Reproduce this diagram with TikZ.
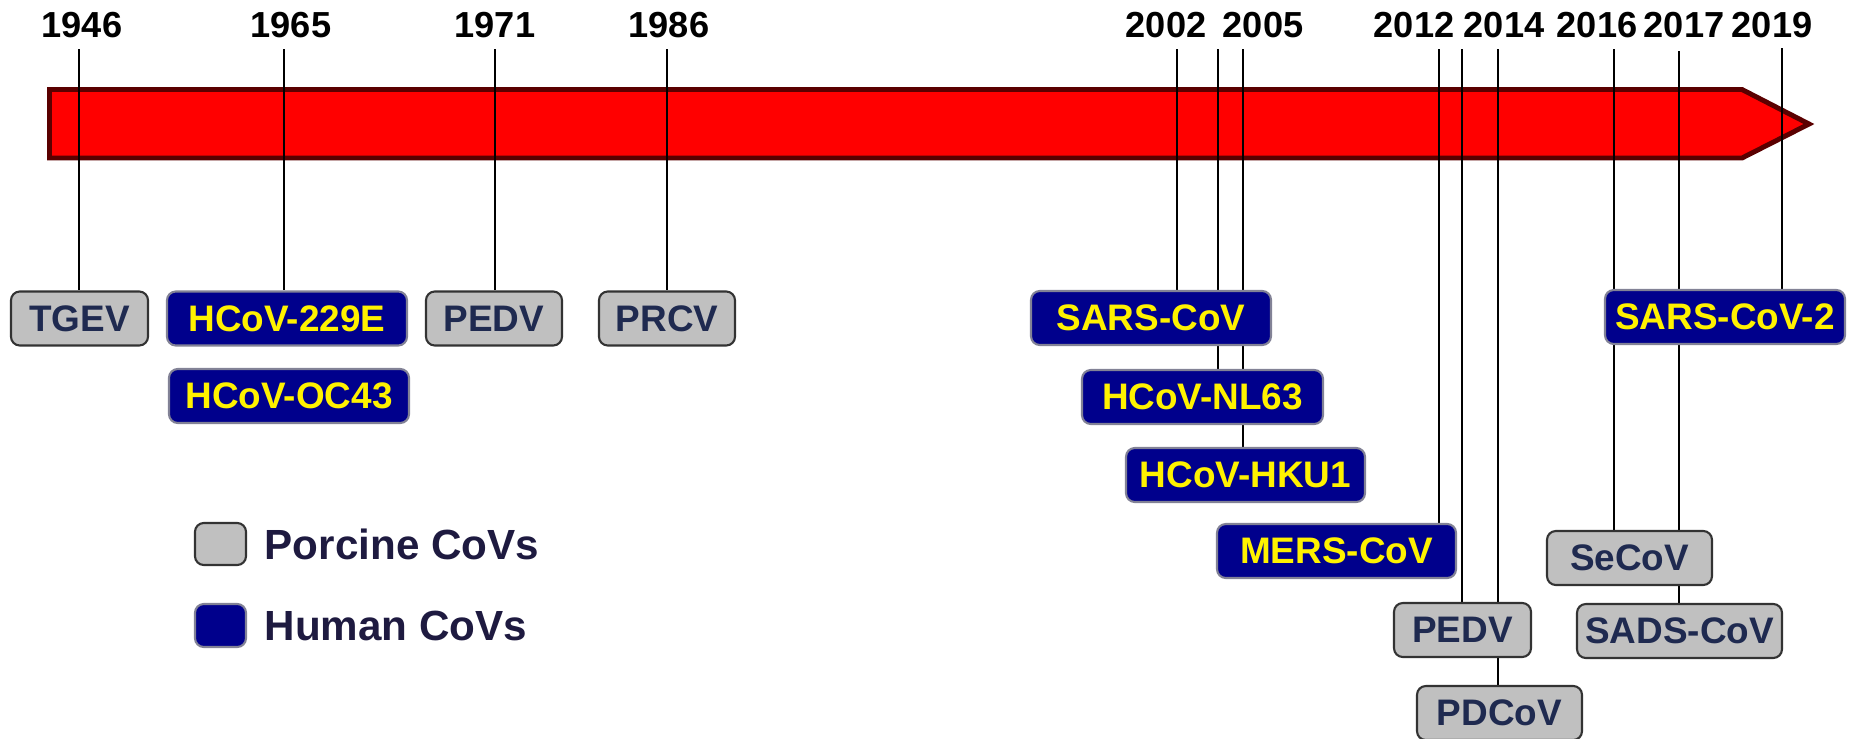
\documentclass[tikz,border=0pt]{standalone}
\usepackage{fontspec}
\setmainfont{Liberation Sans}
\usetikzlibrary{positioning,backgrounds}
\definecolor{barred}{RGB}{255,0,0}
\definecolor{bardark}{RGB}{90,0,0}
\definecolor{humanblue}{RGB}{0,0,140}
\definecolor{humanedge}{RGB}{130,130,150}
\definecolor{porcgray}{RGB}{192,192,192}
\definecolor{porctext}{RGB}{31,42,80}
\definecolor{legtext}{RGB}{30,26,64}
\pgfdeclarelayer{ticks}
\pgfsetlayers{background,ticks,main}

\begin{document}
\begin{tikzpicture}[x=0.1mm, y=-0.1mm]
        % Styles
        \tikzstyle{year} = [inner sep=0pt, font=\bfseries\fontsize{10.3}{12}\selectfont]
        \tikzstyle{cov} = [rectangle, rounded corners=2.5pt, inner sep=0pt,
        minimum height=5.4mm, line width=0.6pt,
        font=\bfseries\fontsize{10.5}{12}\selectfont]
        \tikzstyle{porcine} = [cov, draw=black!80, fill=porcgray, text=porctext]
        \tikzstyle{human} = [cov, draw=humanedge, fill=humanblue, text=yellow]
        \tikzstyle{tick} = [line width=0.6pt, black]
        \tikzstyle{legend} = [text=legtext, anchor=west, inner sep=0pt,
        font=\bfseries\fontsize{12}{14}\selectfont]

        \useasboundingbox (0,0) rectangle (1849,738);

        % Timeline bar
        \begin{pgfonlayer}{background}
        \draw[fill=barred, draw=bardark, line width=1.4pt]
        (49.5,89.5) -- (1742,89.5) -- (1809,124) -- (1742,158) -- (49.5,158) -- cycle;
        \end{pgfonlayer}

        % Years
        \node (y1946) [year] at (82,25) {1946};
        \node (y1965) [year] at (291,25) {1965};
        \node (y1971) [year] at (495,25) {1971};
        \node (y1986) [year] at (669,25) {1986};
        \node (y2002) [year] at (1166,25) {2002};
        \node (y2005) [year] at (1263,25) {2005};
        \node (y2012) [year] at (1414,25) {2012};
        \node (y2014) [year] at (1504,25) {2014};
        \node (y2016) [year] at (1597,25) {2016};
        \node (y2017) [year] at (1684,25) {2017};
        \node (y2019) [year] at (1772,25) {2019};

        % Tick tops
        \coordinate (tTGEV) at (79,49);
        \coordinate (t229E) at (284,49);
        \coordinate (tPEDV) at (495,49);
        \coordinate (tPRCV) at (667,49);
        \coordinate (tSARS) at (1177,49);
        \coordinate (tNL63) at (1218,49);
        \coordinate (tHKU1) at (1243,49);
        \coordinate (tMERS) at (1439,49);
        \coordinate (tPEDVb) at (1462,49);
        \coordinate (tPDCoV) at (1498,49);
        \coordinate (tSeCoV) at (1614,49);
        \coordinate (tSADS) at (1679,51);
        \coordinate (tSARS2) at (1782,48);

        % Nodes
        \node (TGEV) [porcine, minimum width=13.7mm] at (79.5,318.5) {TGEV};
        \node (229E) [human, minimum width=24mm] at (287,318.5) {HCoV-229E};
        \node (OC43) [human, minimum width=24mm] at (289,396) {HCoV-OC43};
        \node (PEDV) [porcine, minimum width=13.6mm] at (494,318.5) {PEDV};
        \node (PRCV) [porcine, minimum width=13.6mm] at (667,318.5) {PRCV};
        \node (SARS) [human, minimum width=24mm] at (1151,318) {SARS-CoV};
        \node (NL63) [human, minimum width=24.1mm] at (1202.5,397) {HCoV-NL63};
        \node (HKU1) [human, minimum width=23.9mm] at (1245.5,475) {HCoV-HKU1};
        \node (MERS) [human, minimum width=23.9mm] at (1336.5,551) {MERS-CoV};
        \node (PEDVb) [porcine, minimum width=13.7mm] at (1462.5,630) {PEDV};
        \node (PDCoV) [porcine, minimum width=16.5mm] at (1499.5,713) {PDCoV};
        \node (SeCoV) [porcine, minimum width=16.5mm] at (1629.5,558) {SeCoV};
        \node (SADS) [porcine, minimum width=20.5mm] at (1679.5,631) {SADS-CoV};
        \node (SARS2) [human, minimum width=24mm] at (1725,317) {SARS-CoV-2};

        % Legend
        \node (porkey) [porcine, minimum width=5.1mm, minimum height=4.2mm] at (220.5,544) {};
        \node (humkey) [human, minimum width=5.1mm, minimum height=4.3mm] at (220.5,625.5) {};
        \node (porlabel) [legend, right=1.7mm of porkey] {Porcine CoVs};
        \node (humlabel) [legend, right=1.7mm of humkey] {Human CoVs};

        % Ticks
        \begin{pgfonlayer}{ticks}
        \draw[tick] (tTGEV) -- (tTGEV |- TGEV.north);
        \draw[tick] (t229E) -- (t229E |- 229E.north);
        \draw[tick] (tPEDV) -- (tPEDV |- PEDV.north);
        \draw[tick] (tPRCV) -- (tPRCV |- PRCV.north);
        \draw[tick] (tSARS) -- (tSARS |- SARS.north);
        \draw[tick] (tNL63) -- (tNL63 |- NL63.north);
        \draw[tick] (tHKU1) -- (tHKU1 |- HKU1.north);
        \draw[tick] (tMERS) -- (tMERS |- MERS.north);
        \draw[tick] (tPEDVb) -- (tPEDVb |- PEDVb.north);
        \draw[tick] (tPDCoV) -- (tPDCoV |- PDCoV.north);
        \draw[tick] (tSeCoV) -- (tSeCoV |- SeCoV.north);
        \draw[tick] (tSADS) -- (tSADS |- SADS.north);
        \draw[tick] (tSARS2) -- (tSARS2 |- SARS2.north);
        \end{pgfonlayer}
    \end{tikzpicture}
\end{document}
